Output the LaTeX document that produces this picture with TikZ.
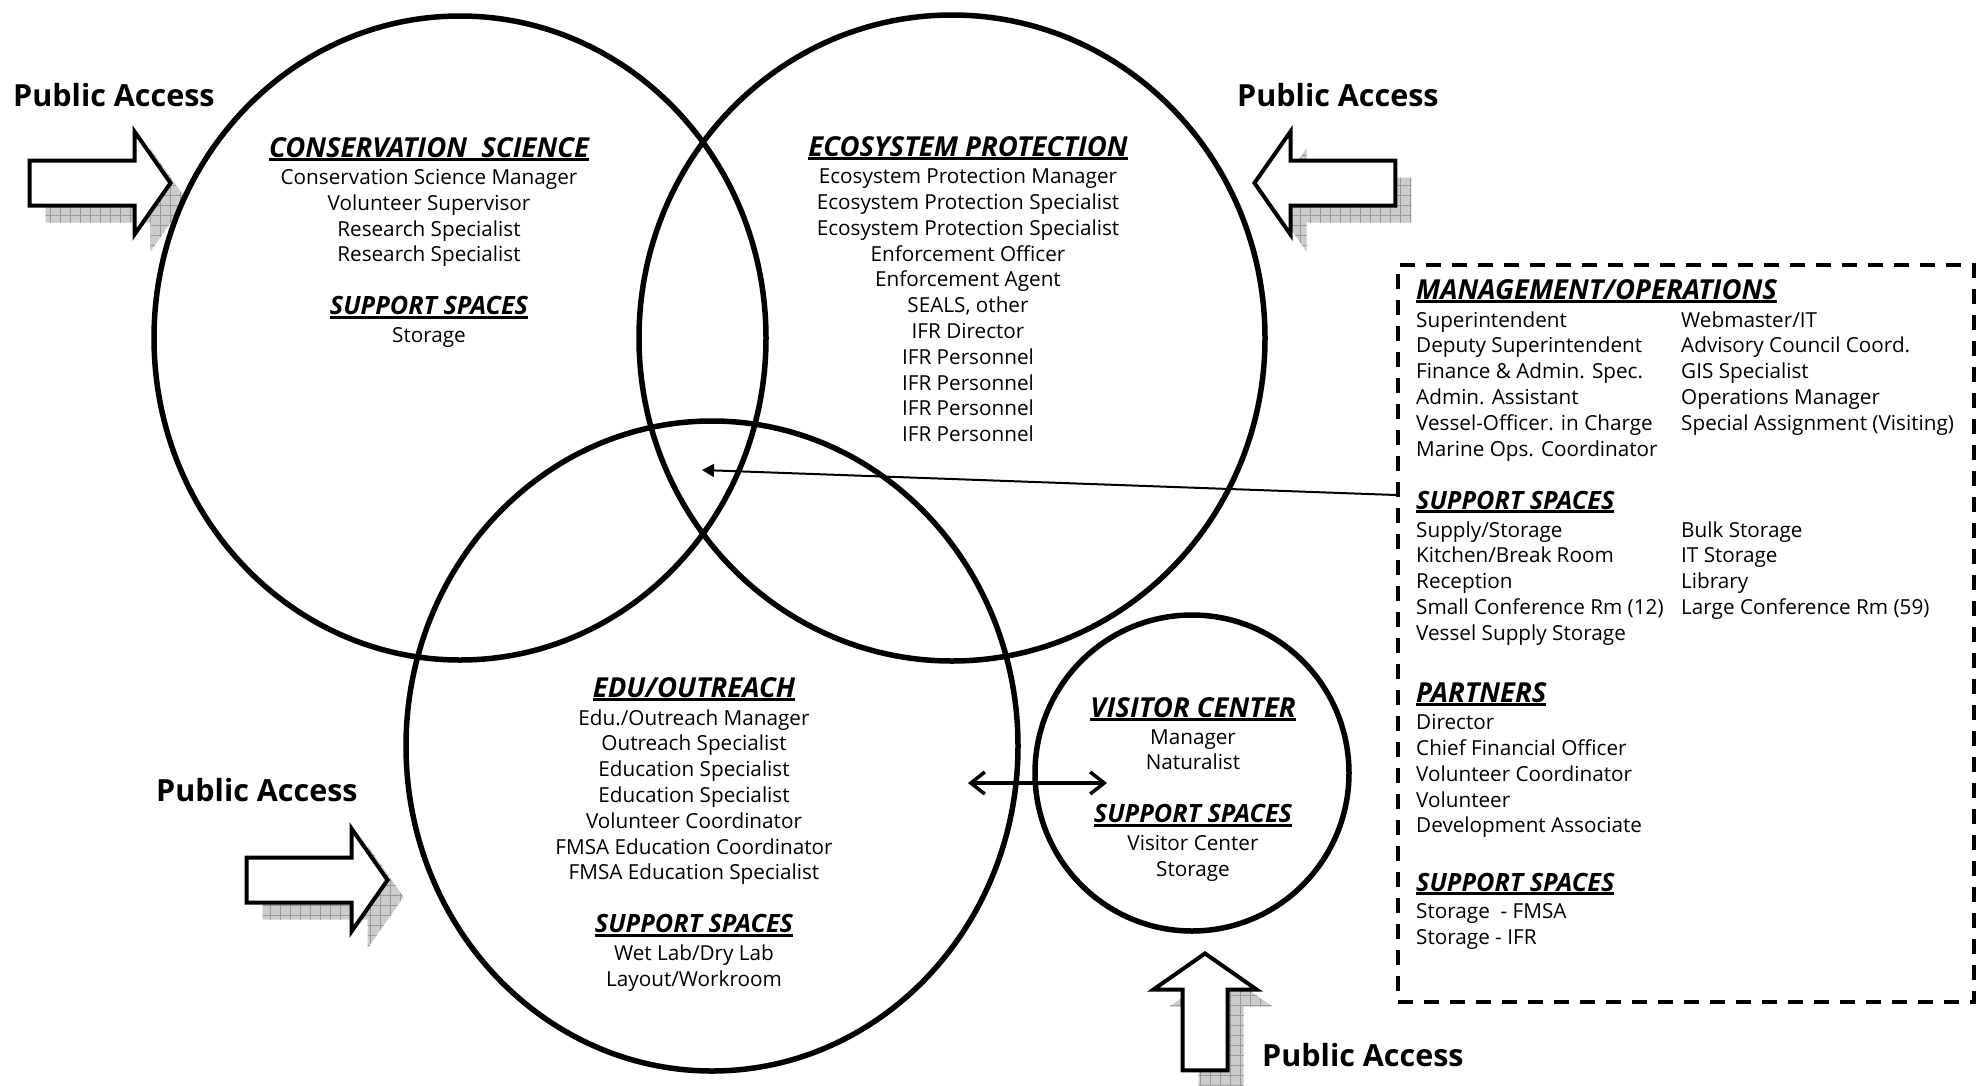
\documentclass[tikz,border=0pt]{standalone}
\usepackage{fontspec}
\setmainfont{Open Sans}
\usetikzlibrary{positioning,shapes.geometric,shapes.arrows,shadows,patterns,arrows.meta}

\pgfdeclarepatternformonly{shadegrid}{\pgfqpoint{-1pt}{-1pt}}{\pgfqpoint{11pt}{11pt}}{\pgfqpoint{10pt}{10pt}}{%
  \pgfsetlinewidth{0.9pt}%
  \pgfpathmoveto{\pgfqpoint{0pt}{0pt}}\pgfpathlineto{\pgfqpoint{10.1pt}{0pt}}%
  \pgfpathmoveto{\pgfqpoint{0pt}{0pt}}\pgfpathlineto{\pgfqpoint{0pt}{10.1pt}}%
  \pgfusepath{stroke}}

\newsavebox{\ulbox}
\newcommand{\ulhead}[1]{\sbox{\ulbox}{#1}\rlap{\rule[-4pt]{\wd\ulbox}{2.6pt}}\usebox{\ulbox}}

\begin{document}
\begin{tikzpicture}[
    x=1pt, y=-1pt,
    node distance=8pt,
    zone/.style={ellipse, draw, line width=5.5pt, inner sep=0pt},
    head/.style={inner sep=0pt, font=\fontsize{27.5}{30}\selectfont\bfseries\itshape},
    subhead/.style={head, font=\fontsize{25.2}{28}\selectfont\bfseries\itshape},
    staff/.style={inner sep=0pt, align=center, font=\fontsize{20.7}{25.8}\selectfont},
    roster/.style={inner sep=0pt, align=left, font=\fontsize{20.7}{25.8}\selectfont},
    access/.style={inner sep=0pt, anchor=west, font=\fontsize{30.5}{34}\selectfont\bfseries},
    gate/.style={single arrow, draw, line width=4pt, fill=white, inner xsep=0pt, inner ysep=20.5pt,
        minimum height=141pt, single arrow head extend=29pt, single arrow tip angle=110,
        general shadow={shadow xshift=16pt, shadow yshift=-17pt, fill=gray!40},
        general shadow={shadow xshift=16pt, shadow yshift=-17pt, pattern=shadegrid, pattern color=gray!80}},
    link/.style={-{Triangle[length=12pt,width=13pt]}, line width=2pt},
    pair/.style={{Straight Barb[length=14pt,width=22pt]}-{Straight Barb[length=14pt,width=22pt]}, line width=3.5pt}
]
\useasboundingbox (0,0) rectangle (1979,1085);

% public access arrows
\node[gate, anchor=tip] (gate1) at (173,183) {};
\node[gate, rotate=180, anchor=tip] (gate2) at (1252,183) {};
\node[gate, anchor=tip] (gate3) at (390,880) {};
\node[gate, rotate=90, anchor=tip, minimum height=117pt] (gate4) at (1205,951) {};

\node[access] (pa1) at (13,95) {Public Access};
\node[access] (pa2) at (1237,95) {Public Access};
\node[access] (pa3) at (156,790) {Public Access};
\node[access] (pa4) at (1262,1055) {Public Access};

% the four zones
\node[zone, minimum width=612pt, minimum height=644pt] (cons) at (460,338) {};
\node[zone, minimum width=626pt, minimum height=646pt] (eco) at (952,338) {};
\node[zone, minimum width=612pt, minimum height=650pt] (edu) at (712,746) {};
\node[zone, minimum width=314pt, minimum height=316pt] (visit) at (1192,773) {};

% conservation science
\node[head, anchor=base] (conshead) at (429,157) {\ulhead{CONSERVATION\ \ SCIENCE}};
\node[staff, below=of conshead] (consstaff) {Conservation Science Manager\\Volunteer Supervisor\\Research Specialist\\Research Specialist};
\node[subhead, below=29pt of consstaff] (conssup) {\ulhead{SUPPORT SPACES}};
\node[staff, below=of conssup] (consrooms) {Storage};

% ecosystem protection
\node[head, anchor=base] (ecohead) at (968,156) {\ulhead{ECOSYSTEM PROTECTION}};
\node[staff, below=of ecohead] (ecostaff) {Ecosystem Protection Manager\\Ecosystem Protection Specialist\\Ecosystem Protection Specialist\\Enforcement Officer\\Enforcement Agent\\SEALS, other\\IFR Director\\IFR Personnel\\IFR Personnel\\IFR Personnel\\IFR Personnel};

% education / outreach
\node[head, anchor=base] (eduhead) at (694,697) {\ulhead{EDU/OUTREACH}};
\node[staff, below=of eduhead] (edustaff) {Edu./Outreach Manager\\Outreach Specialist\\Education Specialist\\Education Specialist\\Volunteer Coordinator\\FMSA Education Coordinator\\FMSA Education Specialist};
\node[subhead, below=29pt of edustaff] (edusup) {\ulhead{SUPPORT SPACES}};
\node[staff, below=of edusup] (edurooms) {Wet Lab/Dry Lab\\Layout/Workroom};

% visitor center
\node[head, anchor=base] (visithead) at (1193,717) {\ulhead{VISITOR CENTER}};
\node[staff, below=of visithead] (visitstaff) {Manager\\Naturalist};
\node[subhead, below=34pt of visitstaff] (visitsup) {\ulhead{SUPPORT SPACES}};
\node[staff, below=of visitsup] (visitrooms) {Visitor Center\\Storage};

% management / operations box
\node[draw, dash pattern=on 15pt off 11pt, line width=4pt, inner sep=0pt, minimum width=576pt, minimum height=737pt, anchor=north west] (mgmt) at (1396,263) {};

\node[head, anchor=base west] (mgmthead) at (1416,299) {\ulhead{MANAGEMENT/OPERATIONS}};
\node[roster, below=of mgmthead.south west, anchor=north west] (mgmtleft) {Superintendent\\Deputy Superintendent\\Finance \& Admin. Spec.\\Admin. Assistant\\Vessel-Officer. in Charge\\Marine Ops. Coordinator};
\node[roster, anchor=north west] (mgmtright) at ([xshift=265pt]mgmtleft.north west) {Webmaster/IT\\Advisory Council Coord.\\GIS Specialist\\Operations Manager\\Special Assignment (Visiting)};

\node[subhead, anchor=base west] (mgmtsup) at (1416,509) {\ulhead{SUPPORT SPACES}};
\node[roster, below=of mgmtsup.south west, anchor=north west] (suppleft) {Supply/Storage\\Kitchen/Break Room\\Reception\\Small Conference Rm (12)\\Vessel Supply Storage};
\node[roster, anchor=north west] (suppright) at ([xshift=265pt]suppleft.north west) {Bulk Storage\\IT Storage\\Library\\Large Conference Rm (59)};

\node[head, anchor=base west] (parthead) at (1416,702) {\ulhead{PARTNERS}};
\node[roster, below=of parthead.south west, anchor=north west] (partstaff) {Director\\Chief Financial Officer\\Volunteer Coordinator\\Volunteer\\Development Associate};

\node[subhead, anchor=base west] (partsup) at (1416,891) {\ulhead{SUPPORT SPACES}};
\node[roster, below=of partsup.south west, anchor=north west] (partrooms) {Storage\ \ - FMSA\\Storage - IFR};

% connectors
\coordinate (linkfoot) at (1396,495);
\coordinate (hub) at (702,470);
\draw[link] (linkfoot) -- (hub);

\coordinate (eduport) at (968,783);
\coordinate (visitport) at (1107,783);
\draw[pair] (eduport) -- (visitport);

\end{tikzpicture}
\end{document}
